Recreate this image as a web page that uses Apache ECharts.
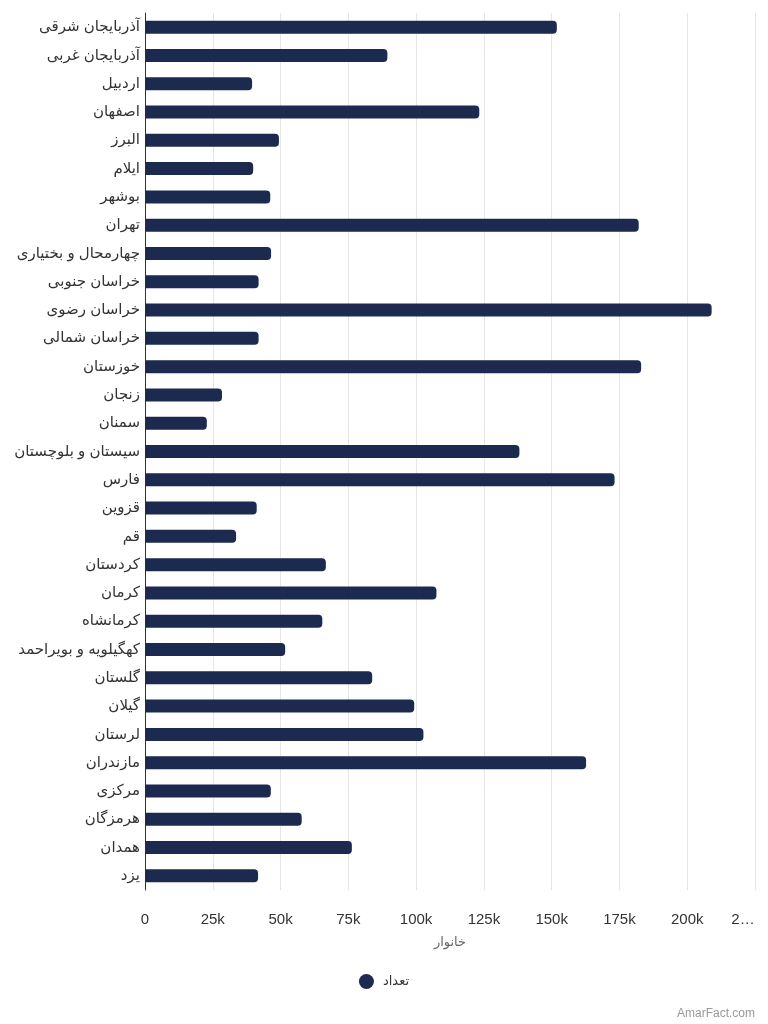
<!DOCTYPE html>
<html>
<head>
<meta charset="utf-8">
<script src="https://cdn.jsdelivr.net/npm/echarts@6/dist/echarts.min.js"></script>
<style>
html,body{margin:0;padding:0;background:#fff;}
#chart{width:768px;height:1024px;}
</style>
</head>
<body>
<div id="chart"></div>
<script>
const categories = ['آذربایجان شرقی','آذربایجان غربی','اردبیل','اصفهان','البرز','ایلام','بوشهر','تهران','چهارمحال و بختیاری','خراسان جنوبی','خراسان رضوی','خراسان شمالی','خوزستان','زنجان','سمنان','سیستان و بلوچستان','فارس','قزوین','قم','کردستان','کرمان','کرمانشاه','کهگیلویه و بویراحمد','گلستان','گیلان','لرستان','مازندران','مرکزی','هرمزگان','همدان','یزد'];
const households = [151900,89400,39500,123300,49400,39900,46200,182100,46500,41900,209000,41900,183000,28400,22800,138100,173200,41200,33600,66700,107500,65400,51700,83800,99300,102700,162700,46400,57800,76300,41700];
const xTickLabels = ['0','25k','50k','75k','100k','125k','150k','175k','200k','2…'];
const seriesName = 'تعداد';
const axisName = 'خانوار';
const credit = 'AmarFact.com';

const chart = echarts.init(document.getElementById('chart'));
const font = '"Liberation Sans", Arial, "DejaVu Sans", sans-serif';
chart.setOption({
  animation: false,
  textStyle: {fontFamily: font},
  grid: {left: 145, right: 13, top: 13, bottom: 134},
  legend: {
    data: [seriesName], bottom: 30, left: 'center', icon: 'circle',
    itemWidth: 15, itemHeight: 15, itemGap: 10,
    textStyle: {fontSize: 13, color: '#333', fontFamily: font, padding: [0, 0, 0, 4]}
  },
  xAxis: {
    type: 'value', min: 0, max: 225000, interval: 25000,
    name: axisName, nameLocation: 'middle', nameGap: 46,
    nameTextStyle: {color: '#666', fontSize: 13, fontFamily: font},
    axisLine: {show: false}, axisTick: {show: false},
    splitLine: {lineStyle: {color: '#e6e6e6', width: 1}},
    axisLabel: {
      color: '#333', fontSize: 15, margin: 22, fontFamily: font,
      formatter: v => {
        const i = Math.round(v / 25000);
        return i === xTickLabels.length - 1 ? '{e|' + xTickLabels[i] + '}' : xTickLabels[i];
      },
      rich: {e: {color: '#333', fontSize: 15, fontFamily: font, padding: [0, 24, 0, 0]}}
    }
  },
  yAxis: {
    type: 'category', data: categories, inverse: true,
    axisLine: {show: true, lineStyle: {color: '#333', width: 1}},
    axisTick: {show: false},
    axisLabel: {color: '#333', fontSize: 15, margin: 5, fontFamily: font}
  },
  series: [{
    name: seriesName, type: 'bar', data: households, barWidth: 13,
    itemStyle: {color: '#1b2a4e', borderRadius: [0, 4, 4, 0]}
  }],
  graphic: [{
    type: 'text', right: 13, bottom: 4,
    style: {text: credit, fill: '#999', fontSize: 12, fontFamily: font}
  }]
});
</script>
</body>
</html>
